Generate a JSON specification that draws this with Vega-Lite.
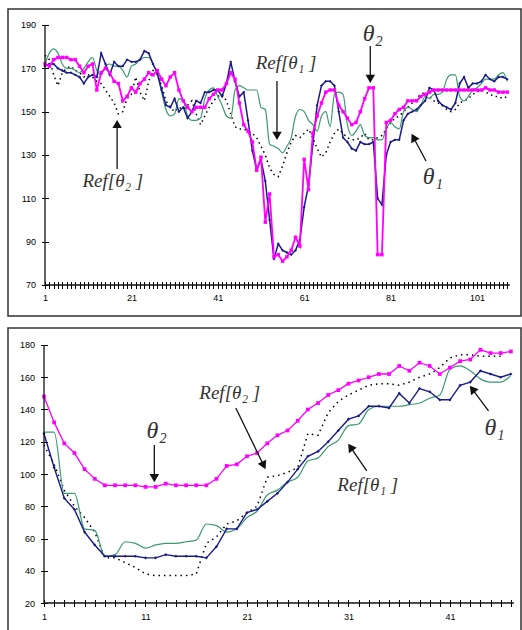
{
"$schema":"https://vega.github.io/schema/vega-lite/v6.json",
"background":"white",
"padding":{"left":7,"top":8,"right":0,"bottom":0},
"spacing":10,
"config":{"view":{"stroke":"#333","strokeWidth":1.5},
"axis":{"labelFont":"Liberation Sans","labelFontSize":9,"labelColor":"#000","tickColor":"#000","tickWidth":1,"tickSize":7,"domain":false,"grid":false,"title":null,"labelOverlap":false,"labelFlush":false}},
"datasets":{
"top":[
{"i":1,"t1":171,"t2":172,"r1":172,"r2":176},{"i":2,"t1":172,"t2":171,"r1":177,"r2":174},{"i":3,"t1":172,"t2":174,"r1":179,"r2":167},{"i":4,"t1":170,"t2":175,"r1":177,"r2":162},{"i":5,"t1":169,"t2":175,"r1":172,"r2":168},{"i":6,"t1":168,"t2":175,"r1":170,"r2":170},{"i":7,"t1":168,"t2":174,"r1":170,"r2":171},{"i":8,"t1":167,"t2":174,"r1":169,"r2":169},{"i":9,"t1":166,"t2":171,"r1":168,"r2":168},{"i":10,"t1":163,"t2":168,"r1":170,"r2":166},
{"i":11,"t1":166,"t2":171,"r1":173,"r2":167},{"i":12,"t1":167,"t2":172,"r1":175,"r2":166},{"i":13,"t1":166,"t2":160,"r1":169,"r2":164},{"i":14,"t1":177,"t2":168,"r1":167,"r2":163},{"i":15,"t1":172,"t2":170,"r1":171,"r2":160},{"i":16,"t1":167,"t2":168,"r1":172,"r2":157},{"i":17,"t1":173,"t2":164,"r1":171,"r2":154},{"i":18,"t1":171,"t2":163,"r1":171,"r2":149},{"i":19,"t1":171,"t2":155,"r1":169,"r2":150},{"i":20,"t1":174,"t2":157,"r1":166,"r2":156},
{"i":21,"t1":173,"t2":161,"r1":171,"r2":158},{"i":22,"t1":173,"t2":159,"r1":172,"r2":166},{"i":23,"t1":174,"t2":163,"r1":174,"r2":159},{"i":24,"t1":178,"t2":165,"r1":175,"r2":155},{"i":25,"t1":177,"t2":168,"r1":175,"r2":164},{"i":26,"t1":172,"t2":167,"r1":172,"r2":169},{"i":27,"t1":168,"t2":169,"r1":167,"r2":167},{"i":28,"t1":160,"t2":165,"r1":159,"r2":162},{"i":29,"t1":153,"t2":162,"r1":151,"r2":155},{"i":30,"t1":152,"t2":166,"r1":148,"r2":152},
{"i":31,"t1":156,"t2":168,"r1":149,"r2":150},{"i":32,"t1":150,"t2":160,"r1":156,"r2":152},{"i":33,"t1":152,"t2":155,"r1":155,"r2":151},{"i":34,"t1":147,"t2":152,"r1":148,"r2":153},{"i":35,"t1":150,"t2":150,"r1":146,"r2":155},{"i":36,"t1":155,"t2":152,"r1":146,"r2":149},{"i":37,"t1":154,"t2":152,"r1":147,"r2":144},{"i":38,"t1":159,"t2":152,"r1":156,"r2":148},{"i":39,"t1":159,"t2":156,"r1":160,"r2":152},{"i":40,"t1":160,"t2":158,"r1":161,"r2":155},
{"i":41,"t1":160,"t2":160,"r1":157,"r2":157},{"i":42,"t1":157,"t2":160,"r1":153,"r2":158},{"i":43,"t1":163,"t2":163,"r1":148,"r2":155},{"i":44,"t1":173,"t2":168,"r1":147,"r2":149},{"i":45,"t1":164,"t2":165,"r1":160,"r2":143},{"i":46,"t1":157,"t2":154,"r1":162,"r2":142},{"i":47,"t1":159,"t2":144,"r1":161,"r2":142},{"i":48,"t1":146,"t2":141,"r1":160,"r2":141},{"i":49,"t1":132,"t2":136,"r1":160,"r2":140},{"i":50,"t1":123,"t2":123,"r1":160,"r2":138},
{"i":51,"t1":128,"t2":129,"r1":152,"r2":134},{"i":52,"t1":118,"t2":99,"r1":151,"r2":130},{"i":53,"t1":100,"t2":112,"r1":135,"r2":124},{"i":54,"t1":82,"t2":83,"r1":134,"r2":121},{"i":55,"t1":89,"t2":84,"r1":133,"r2":120},{"i":56,"t1":86,"t2":81,"r1":131,"r2":125},{"i":57,"t1":85,"t2":83,"r1":134,"r2":131},{"i":58,"t1":84,"t2":86,"r1":138,"r2":136},{"i":59,"t1":86,"t2":92,"r1":148,"r2":139},{"i":60,"t1":91,"t2":88,"r1":151,"r2":138},
{"i":61,"t1":106,"t2":128,"r1":150,"r2":140},{"i":62,"t1":116,"t2":114,"r1":146,"r2":142},{"i":63,"t1":135,"t2":140,"r1":144,"r2":138},{"i":64,"t1":153,"t2":148,"r1":141,"r2":133},{"i":65,"t1":162,"t2":154,"r1":148,"r2":129},{"i":66,"t1":164,"t2":159,"r1":150,"r2":131},{"i":67,"t1":164,"t2":160,"r1":143,"r2":136},{"i":68,"t1":162,"t2":160,"r1":158,"r2":140},{"i":69,"t1":150,"t2":153,"r1":159,"r2":142},{"i":70,"t1":138,"t2":150,"r1":158,"r2":140},
{"i":71,"t1":136,"t2":147,"r1":144,"r2":138},{"i":72,"t1":133,"t2":144,"r1":139,"r2":137},{"i":73,"t1":132,"t2":145,"r1":141,"r2":137},{"i":74,"t1":136,"t2":150,"r1":144,"r2":138},{"i":75,"t1":135,"t2":156,"r1":139,"r2":140},{"i":76,"t1":135,"t2":161,"r1":138,"r2":137},{"i":77,"t1":136,"t2":161,"r1":138,"r2":137},{"i":78,"t1":110,"t2":84,"r1":137,"r2":138},{"i":79,"t1":107,"t2":84,"r1":137,"r2":139},{"i":80,"t1":130,"t2":145,"r1":142,"r2":142},
{"i":81,"t1":136,"t2":146,"r1":145,"r2":145},{"i":82,"t1":137,"t2":149,"r1":143,"r2":147},{"i":83,"t1":137,"t2":151,"r1":142,"r2":148},{"i":84,"t1":146,"t2":152,"r1":150,"r2":150},{"i":85,"t1":149,"t2":155,"r1":152,"r2":152},{"i":86,"t1":150,"t2":155,"r1":151,"r2":154},{"i":87,"t1":151,"t2":155,"r1":150,"r2":156},{"i":88,"t1":153,"t2":157,"r1":153,"r2":158},{"i":89,"t1":155,"t2":158,"r1":157,"r2":159},{"i":90,"t1":161,"t2":159,"r1":156,"r2":157},
{"i":91,"t1":160,"t2":160,"r1":158,"r2":155},{"i":92,"t1":155,"t2":160,"r1":158,"r2":154},{"i":93,"t1":153,"t2":160,"r1":159,"r2":153},{"i":94,"t1":152,"t2":160,"r1":165,"r2":151},{"i":95,"t1":151,"t2":160,"r1":167,"r2":150},{"i":96,"t1":154,"t2":160,"r1":167,"r2":151},{"i":97,"t1":163,"t2":160,"r1":157,"r2":154},{"i":98,"t1":166,"t2":160,"r1":155,"r2":155},{"i":99,"t1":161,"t2":160,"r1":157,"r2":156},{"i":100,"t1":163,"t2":160,"r1":160,"r2":158},
{"i":101,"t1":163,"t2":160,"r1":161,"r2":159},{"i":102,"t1":164,"t2":160,"r1":163,"r2":160},{"i":103,"t1":167,"t2":161,"r1":165,"r2":159},{"i":104,"t1":165,"t2":160,"r1":165,"r2":158},{"i":105,"t1":164,"t2":160,"r1":165,"r2":157},{"i":106,"t1":166,"t2":159,"r1":167,"r2":157},{"i":107,"t1":166,"t2":159,"r1":168,"r2":156},{"i":108,"t1":165,"t2":159,"r1":164,"r2":157}
],
"bottom":[
{"i":1,"t1":125,"t2":148,"r1":126,"r2":118},{"i":2,"t1":104,"t2":132,"r1":126,"r2":106},{"i":3,"t1":85,"t2":119,"r1":88,"r2":90},{"i":4,"t1":78,"t2":113,"r1":88,"r2":80},{"i":5,"t1":64,"t2":103,"r1":66,"r2":73},{"i":6,"t1":56,"t2":97,"r1":65,"r2":64},{"i":7,"t1":49,"t2":93,"r1":49,"r2":48},{"i":8,"t1":49,"t2":93,"r1":50,"r2":48},{"i":9,"t1":49,"t2":93,"r1":58,"r2":45},{"i":10,"t1":49,"t2":93,"r1":57,"r2":42},
{"i":11,"t1":48,"t2":92,"r1":54,"r2":38},{"i":12,"t1":48,"t2":92,"r1":56,"r2":37},{"i":13,"t1":50,"t2":94,"r1":57,"r2":37},{"i":14,"t1":49,"t2":93,"r1":57,"r2":37},{"i":15,"t1":49,"t2":93,"r1":58,"r2":37},{"i":16,"t1":49,"t2":93,"r1":59,"r2":38},{"i":17,"t1":48,"t2":93,"r1":69,"r2":57},{"i":18,"t1":55,"t2":97,"r1":68,"r2":61},{"i":19,"t1":66,"t2":105,"r1":64,"r2":69},{"i":20,"t1":66,"t2":106,"r1":66,"r2":71},
{"i":21,"t1":76,"t2":111,"r1":73,"r2":76},{"i":22,"t1":78,"t2":113,"r1":77,"r2":80},{"i":23,"t1":83,"t2":119,"r1":87,"r2":98},{"i":24,"t1":88,"t2":124,"r1":90,"r2":99},{"i":25,"t1":95,"t2":127,"r1":95,"r2":101},{"i":26,"t1":103,"t2":133,"r1":98,"r2":104},{"i":27,"t1":111,"t2":140,"r1":108,"r2":125},{"i":28,"t1":114,"t2":144,"r1":110,"r2":124},{"i":29,"t1":120,"t2":149,"r1":117,"r2":138},{"i":30,"t1":127,"t2":152,"r1":121,"r2":145},
{"i":31,"t1":134,"t2":156,"r1":130,"r2":149},{"i":32,"t1":136,"t2":158,"r1":131,"r2":152},{"i":33,"t1":142,"t2":160,"r1":140,"r2":155},{"i":34,"t1":142,"t2":162,"r1":142,"r2":156},{"i":35,"t1":141,"t2":162,"r1":142,"r2":156},{"i":36,"t1":150,"t2":167,"r1":142,"r2":155},{"i":37,"t1":144,"t2":164,"r1":143,"r2":157},{"i":38,"t1":153,"t2":169,"r1":144,"r2":160},{"i":39,"t1":151,"t2":167,"r1":147,"r2":162},{"i":40,"t1":146,"t2":162,"r1":149,"r2":166},
{"i":41,"t1":146,"t2":166,"r1":165,"r2":172},{"i":42,"t1":155,"t2":170,"r1":167,"r2":174},{"i":43,"t1":157,"t2":171,"r1":164,"r2":174},{"i":44,"t1":164,"t2":177,"r1":159,"r2":173},{"i":45,"t1":162,"t2":175,"r1":157,"r2":173},{"i":46,"t1":160,"t2":175,"r1":157,"r2":173},{"i":47,"t1":162,"t2":176,"r1":161}
]},
"vconcat":[
{"width":513,"height":307,
"encoding":{
"x":{"field":"i","type":"quantitative","scale":{"domain":[-7.565,111.19],"nice":false,"zero":false},
"axis":{"offset":-34.5,"labelPadding":5,"values":[1,2,3,4,5,6,7,8,9,10,11,12,13,14,15,16,17,18,19,20,21,22,23,24,25,26,27,28,29,30,31,32,33,34,35,36,37,38,39,40,41,42,43,44,45,46,47,48,49,50,51,52,53,54,55,56,57,58,59,60,61,62,63,64,65,66,67,68,69,70,71,72,73,74,75,76,77,78,79,80,81,82,83,84,85,86,87,88,89,90,91,92,93,94,95,96,97,98,99,100,101,102,103,104,105,106,107,108],"labelExpr":"(datum.value-1)%20===0 ? datum.label : ''"}},
"y":{"field":"value","type":"quantitative","scale":{"domain":[55.69,197.38],"nice":false,"zero":false},
"axis":{"offset":-40.5,"labelPadding":6,"values":[70,90,110,130,150,170,190]}}},
"layer":[
{"data":{"name":"top"},"transform":[{"fold":["r2"],"as":["series","value"]}],"mark":{"type":"line","color":"#000","strokeWidth":1.5,"strokeDash":[1.5,3.5]}},
{"data":{"name":"top"},"transform":[{"fold":["r1"],"as":["series","value"]}],"mark":{"type":"line","color":"#3a9a6c","strokeWidth":1.2,"interpolate":"monotone"}},
{"data":{"name":"top"},"transform":[{"fold":["t1"],"as":["series","value"]}],"mark":{"type":"line","color":"#1a1a8a","strokeWidth":1.5}},
{"data":{"name":"top"},"transform":[{"fold":["t1"],"as":["series","value"]}],"mark":{"type":"point","shape":"diamond","filled":true,"color":"#1a1a8a","size":8,"opacity":1}},
{"data":{"name":"top"},"transform":[{"fold":["t2"],"as":["series","value"]}],"mark":{"type":"line","color":"#ff00ff","strokeWidth":1.8}},
{"data":{"name":"top"},"transform":[{"fold":["t2"],"as":["series","value"]}],"mark":{"type":"point","shape":"square","filled":true,"color":"#ff00ff","size":12,"opacity":1}},
{"data":{"values":[{"i":1,"value":70,"i2":108.6,"value2":70},{"i":1,"value":70,"i2":1,"value2":190},{"i":54.7,"value":164.2,"i2":54.7,"value2":138.8},{"i":76.3,"value":180.3,"i2":76.3,"value2":165.1},{"i":89.2,"value":127.2,"i2":86.3,"value2":138.1},{"i":17.7,"value":123.5,"i2":17.7,"value2":144.3}]},
"mark":{"type":"rule","color":"#111","strokeWidth":1.3},"encoding":{"x2":{"field":"i2"},"y2":{"field":"value2"}}},
{"data":{"values":[{"i":54.7,"value":138.8},{"i":76.3,"value":165.1}]},"mark":{"type":"point","shape":"triangle-down","filled":true,"color":"#111","size":90,"opacity":1}},
{"data":{"values":[{"i":17.7,"value":144.3}]},"mark":{"type":"point","shape":"triangle-up","filled":true,"color":"#111","size":90,"opacity":1}},
{"data":{"values":[{"i":86.3,"value":138.1}]},"mark":{"type":"point","shape":"triangle-up","angle":332,"filled":true,"color":"#111","size":90,"opacity":1}},
{"data":{"values":[{"i":56.8,"value":172.5,"label":"Ref[θ₁ ]"},{"i":16.7,"value":118,"label":"Ref[θ₂ ]"}]},"mark":{"type":"text","font":"Liberation Serif","fontStyle":"italic","fontSize":19,"color":"#333","align":"center","baseline":"middle"},"encoding":{"text":{"field":"label"}}},
{"data":{"values":[{"i":76.9,"value":185.8,"label":"θ₂"},{"i":90.8,"value":119.8,"label":"θ₁"}]},"mark":{"type":"text","font":"Liberation Serif","fontStyle":"italic","fontSize":24,"color":"#333","align":"center","baseline":"middle"},"encoding":{"text":{"field":"label"}}}
]},
{"width":513,"height":303,
"encoding":{
"x":{"field":"i","type":"quantitative","scale":{"domain":[-2.547,48.0],"nice":false,"zero":false},
"axis":{"offset":-31.5,"labelPadding":6,"values":[1,2,3,4,5,6,7,8,9,10,11,12,13,14,15,16,17,18,19,20,21,22,23,24,25,26,27,28,29,30,31,32,33,34,35,36,37,38,39,40,41,42,43,44,45,46,47],"labelExpr":"(datum.value-1)%10===0 ? datum.label : ''"}},
"y":{"field":"value","type":"quantitative","scale":{"domain":[2.64,190.54],"nice":false,"zero":false},
"axis":{"offset":-39.5,"labelPadding":6,"values":[20,40,60,80,100,120,140,160,180]}}},
"layer":[
{"data":{"name":"bottom"},"transform":[{"fold":["r2"],"as":["series","value"]}],"mark":{"type":"line","color":"#000","strokeWidth":1.5,"strokeDash":[1.5,4]}},
{"data":{"name":"bottom"},"transform":[{"fold":["r1"],"as":["series","value"]}],"mark":{"type":"line","color":"#3a9a6c","strokeWidth":1.2,"interpolate":"monotone"}},
{"data":{"name":"bottom"},"transform":[{"fold":["t1"],"as":["series","value"]}],"mark":{"type":"line","color":"#1a1a8a","strokeWidth":1.4}},
{"data":{"name":"bottom"},"transform":[{"fold":["t1"],"as":["series","value"]}],"mark":{"type":"point","shape":"diamond","filled":true,"color":"#1a1a8a","size":10,"opacity":1}},
{"data":{"name":"bottom"},"transform":[{"fold":["t2"],"as":["series","value"]}],"mark":{"type":"line","color":"#ff00ff","strokeWidth":1.3}},
{"data":{"name":"bottom"},"transform":[{"fold":["t2"],"as":["series","value"]}],"mark":{"type":"point","shape":"square","filled":true,"color":"#ff00ff","size":14,"opacity":1}},
{"data":{"values":[{"i":1,"value":20,"i2":47.3,"value2":20},{"i":1,"value":20,"i2":1,"value2":180},{"i":11.87,"value":118,"i2":11.87,"value2":97.5},{"i":19.9,"value":140.9,"i2":22.65,"value2":105.3},{"i":44.8,"value":139.1,"i2":43.2,"value2":152.7},{"i":32.8,"value":101.9,"i2":31.2,"value2":116.7}]},
"mark":{"type":"rule","color":"#111","strokeWidth":1.3},"encoding":{"x2":{"field":"i2"},"y2":{"field":"value2"}}},
{"data":{"values":[{"i":11.87,"value":97.5}]},"mark":{"type":"point","shape":"triangle-down","filled":true,"color":"#111","size":90,"opacity":1}},
{"data":{"values":[{"i":22.65,"value":105.3}]},"mark":{"type":"point","shape":"triangle-up","angle":154,"filled":true,"color":"#111","size":90,"opacity":1}},
{"data":{"values":[{"i":43.2,"value":152.7}]},"mark":{"type":"point","shape":"triangle-up","angle":322,"filled":true,"color":"#111","size":90,"opacity":1}},
{"data":{"values":[{"i":31.2,"value":116.7}]},"mark":{"type":"point","shape":"triangle-up","angle":326,"filled":true,"color":"#111","size":90,"opacity":1}},
{"data":{"values":[{"i":19.3,"value":150.2,"label":"Ref[θ₂ ]"},{"i":32.9,"value":93.2,"label":"Ref[θ₁ ]"}]},"mark":{"type":"text","font":"Liberation Serif","fontStyle":"italic","fontSize":19,"color":"#333","align":"center","baseline":"middle"},"encoding":{"text":{"field":"label"}}},
{"data":{"values":[{"i":12.1,"value":126.7,"label":"θ₂"},{"i":45.4,"value":128.5,"label":"θ₁"}]},"mark":{"type":"text","font":"Liberation Serif","fontStyle":"italic","fontSize":24,"color":"#333","align":"center","baseline":"middle"},"encoding":{"text":{"field":"label"}}}
]}
]}
